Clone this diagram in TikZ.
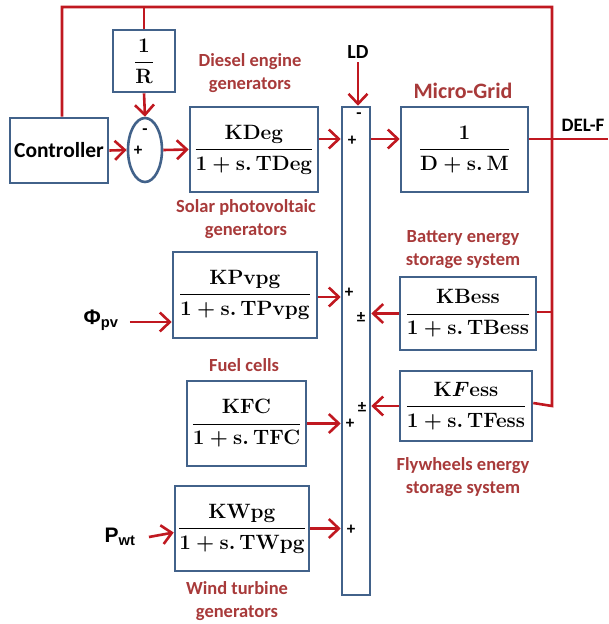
\documentclass[tikz,border=0pt]{standalone}
\usepackage{amsmath}
\usepackage{fontspec}
\usepackage{tikz}
\usetikzlibrary{shapes.geometric, arrows.meta, positioning, calc}
\newfontfamily\lblfont{Carlito}
\newfontfamily\arialfont{Liberation Sans}
\definecolor{boxblue}{RGB}{66,98,138}
\definecolor{sigred}{RGB}{192,24,32}
\definecolor{lblred}{RGB}{168,58,58}
\tikzset{
  blk/.style={rectangle, draw=boxblue, fill=white, line width=2.6pt, inner sep=0pt, align=center, font=\fontsize{21}{25}\selectfont\boldmath},
  sumnode/.style={ellipse, draw=boxblue, fill=white, line width=2.6pt, inner sep=0pt},
  lbl/.style={text=lblred, align=center, font=\lblfont\bfseries\fontsize{18.5}{23}\selectfont},
  sgn/.style={text=black, inner sep=0pt, font=\lblfont\bfseries\fontsize{17}{17}\selectfont},
  sig/.style={-{Straight Barb[length=10pt, width=19pt, line width=2.6pt]}, line width=2.6pt, color=sigred},
  fb/.style={line width=2.6pt, color=sigred}
}
\begin{document}
\begin{tikzpicture}[x=1pt, y=-1pt]
  \useasboundingbox (0,0) rectangle (608,624);
  % feedback corners
  \coordinate (tl) at (62,7);
  \coordinate (tr) at (552,7);
  \coordinate (lvl) at (0,139);
  \coordinate (out) at (608,139);

  % Controller and droop
  \node[blk, minimum width=98pt, minimum height=65pt, font=\lblfont\bfseries\fontsize{21.5}{25}\selectfont] (ctrl) at (59,150.5) {Controller};
  \node[blk, minimum width=62pt, minimum height=62pt] (rbox) at (144,61) {$\dfrac{\mathbf{1}}{\mathbf{R}}$};
  \node[sumnode, minimum width=34pt, minimum height=64pt] (sum) at (145,150) {};
  \node[sgn] (summinus) at (145,132) {-};
  \node[sgn] (sumplus) at (138,151) {+};

  % Diesel engine generators
  \node[blk, minimum width=128pt, minimum height=85pt] (deg) at (254,149.5) {$\dfrac{\mathbf{KDeg}}{\mathbf{1+s.\,TDeg}}$};
  \node[lbl] (deglbl) at (250,73) {Diesel engine\\generators};

  % Summing bar
  \node[blk, minimum width=28pt, minimum height=488pt] (bar) at (356,351) {};
  \node[font=\lblfont\bfseries\fontsize{20}{20}\selectfont] (ld) at (358,52) {LD};

  % Micro-Grid
  \node[blk, minimum width=127pt, minimum height=85pt] (grid) at (464.5,149.5) {$\dfrac{\mathbf{1}}{\mathbf{D+s.\,M}}$};
  \node[lbl, font=\lblfont\bfseries\fontsize{22}{24}\selectfont] (gridlbl) at (463,91) {Micro-Grid};
  \node[font=\lblfont\bfseries\fontsize{19}{20}\selectfont] (delf) at (583,125) {DEL-F};

  % Solar photovoltaic generators
  \node[lbl] (pvlbl) at (246,219) {Solar photovoltaic\\generators};
  \node[blk, minimum width=144pt, minimum height=86pt] (pv) at (245,295) {$\dfrac{\mathbf{KPvpg}}{\mathbf{1+s.\,TPvpg}}$};
  \node[font=\arialfont\bfseries\fontsize{21}{24}\selectfont] (phi) at (101,320) {Φ\textsubscript{pv}};

  % Battery energy storage system
  \node[lbl] (besslbl) at (463,250) {Battery energy\\storage system};
  \node[blk, minimum width=136pt, minimum height=73pt] (bess) at (468,313.5) {$\dfrac{\mathbf{KBess}}{\mathbf{1+s.\,TBess}}$};

  % Fuel cells
  \node[lbl] (fclbl) at (244,365) {Fuel cells};
  \node[blk, minimum width=119pt, minimum height=85pt] (fc) at (246.5,423.5) {$\dfrac{\mathbf{KFC}}{\mathbf{1+s.\,TFC}}$};

  % Flywheels energy storage system
  \node[blk, minimum width=132pt, minimum height=70pt] (fess) at (466,406) {$\dfrac{\mathbf{K}F\mathbf{ess}}{\mathbf{1+s.\,TFess}}$};
  \node[lbl] (fesslbl) at (463,477) {Flywheels energy\\storage system};

  % Wind turbine generators
  \node[blk, minimum width=134pt, minimum height=85pt] (wpg) at (242,528.5) {$\dfrac{\mathbf{KWpg}}{\mathbf{1+s.\,TWpg}}$};
  \node[lbl] (wpglbl) at (237,601) {Wind turbine\\generators};
  \node[font=\arialfont\bfseries\fontsize{21}{24}\selectfont] (pwt) at (120,537) {P\textsubscript{wt}};

  % signs on the bar
  \node[sgn] (m1) at (359,116) {-};
  \node[sgn] (p1) at (352,141) {+};
  \node[sgn] (p2) at (349,293) {+};
  \node[sgn] (pm1) at (361,317) {±};
  \node[sgn] (pm2) at (362,407) {±};
  \node[sgn] (p3) at (350,424) {+};
  \node[sgn] (p4) at (351,530) {+};

  % feedback paths
  \draw[fb] (ctrl.north -| tl) -- (tl) -- (tr) -- (tr |- fess.east) -- ([yshift=3pt]fess.east);
  \draw[fb] ([yshift=1.5pt]bess.east) -- ([yshift=1.5pt]bess.east -| tr);
  \draw[fb] (rbox.north |- tl) -- (rbox.north);
  \draw[fb] (grid.east |- lvl) -- (out);

  % signals
  \draw[sig] (rbox.south) -- (sum.north);
  \draw[sig] (ctrl.east) -- (sum.west);
  \draw[sig] (sum.east) -- (deg.west);
  \draw[sig] (deg.east |- lvl) -- (bar.west |- lvl);
  \draw[sig] (bar.east |- lvl) -- (grid.west |- lvl);
  \draw[sig] (ld.south) -- (ld.south |- bar.north);
  \draw[sig] ([yshift=-2pt]pv.east) -- ([yshift=-2pt]pv.east -| bar.west);
  \draw[sig] (phi.east) ++(8pt,-2pt) -- ([yshift=-27pt]pv.west);
  \draw[sig] (bess.west) -- (bess.west -| bar.east);
  \draw[sig] (fess.west) -- (fess.west -| bar.east);
  \draw[sig] (fc.east) -- (fc.east -| bar.west);
  \draw[sig] (wpg.east) -- (wpg.east -| bar.west);
  \draw[sig] (pwt.east) ++(10pt,0) -- ([yshift=-4pt]wpg.west);
\end{tikzpicture}
\end{document}
